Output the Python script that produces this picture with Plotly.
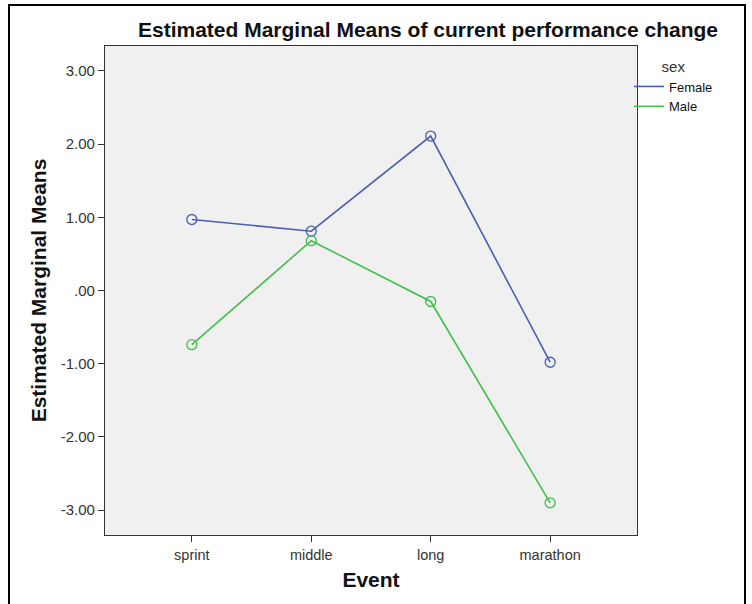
import plotly.graph_objects as go

events = ["sprint", "middle", "long", "marathon"]
female = [0.97, 0.81, 2.11, -0.98]
male = [-0.74, 0.68, -0.15, -2.90]
y_ticks = [3, 2, 1, 0, -1, -2, -3]
y_tick_labels = ["3.00", "2.00", "1.00", ".00", "-1.00", "-2.00", "-3.00"]

blue = "#4a5eb4"
green = "#44be4c"

fig = go.Figure()
for name, vals, col in [("Female", female, blue), ("Male", male, green)]:
    fig.add_trace(go.Scatter(
        x=events, y=vals, mode="lines+markers", name=name, showlegend=False,
        line=dict(color=col, width=1.6),
        marker=dict(symbol="circle-open", size=10, color=col, line=dict(width=1.3)),
    ))
    fig.add_trace(go.Scatter(
        x=[None], y=[None], mode="lines", name=name,
        line=dict(color=col, width=1.6),
    ))

L, R, T, B = 105, 637, 46, 535
W, H = 752, 604
pw, ph = R - L, B - T

def px(x):
    return (x - L) / pw

def py(y):
    return (B - y) / ph

fig.update_layout(
    width=W, height=H,
    margin=dict(l=L, r=W - R, t=T, b=H - B),
    paper_bgcolor="white",
    plot_bgcolor="#f0f0f0",
    font=dict(family="Liberation Sans, Arial, sans-serif", color="#222222", size=14),
    title=dict(text="<b>Estimated Marginal Means of current performance change</b>",
               x=px(428), xref="paper", xanchor="center",
               y=1 - 30 / H, yanchor="middle", font=dict(size=21, color="#111111")),
    xaxis=dict(
        type="category", categoryorder="array", categoryarray=events,
        range=[-0.727, 3.727], showgrid=False, zeroline=False,
        ticks="outside", ticklen=6, tickcolor="#333333", tickwidth=1.3,
        showline=True, linecolor="#333333", linewidth=1.3, mirror=True,
        tickfont=dict(size=14.5, color="#333333"),
        title=dict(text="<b>Event</b>", font=dict(size=21, color="#111111"), standoff=10),
    ),
    yaxis=dict(
        range=[-3.34, 3.34], tickvals=y_ticks, ticktext=y_tick_labels,
        showgrid=False, zeroline=False,
        ticks="outside", ticklen=6, tickcolor="#333333", tickwidth=1.3,
        showline=True, linecolor="#333333", linewidth=1.3, mirror=True,
        tickfont=dict(size=15, color="#333333"),
        title=dict(text="<b>Estimated Marginal Means</b>", font=dict(size=21, color="#111111"), standoff=8),
    ),
    legend=dict(
        x=px(629), y=py(52), xanchor="left", yanchor="top",
        bgcolor="rgba(0,0,0,0)", font=dict(size=13, color="#111111"),
        title=dict(text="sex", side="top center", font=dict(size=15, color="#333333")),
        tracegroupgap=0,
    ),
    shapes=[dict(type="rect", xref="paper", yref="paper",
                 x0=px(9), x1=px(745), y0=py(620), y1=py(5),
                 line=dict(color="black", width=2), fillcolor="rgba(0,0,0,0)")],
)

fig.write_html("out.html", config={"displayModeBar": False},
               post_script="document.body.style.margin='0px';")
